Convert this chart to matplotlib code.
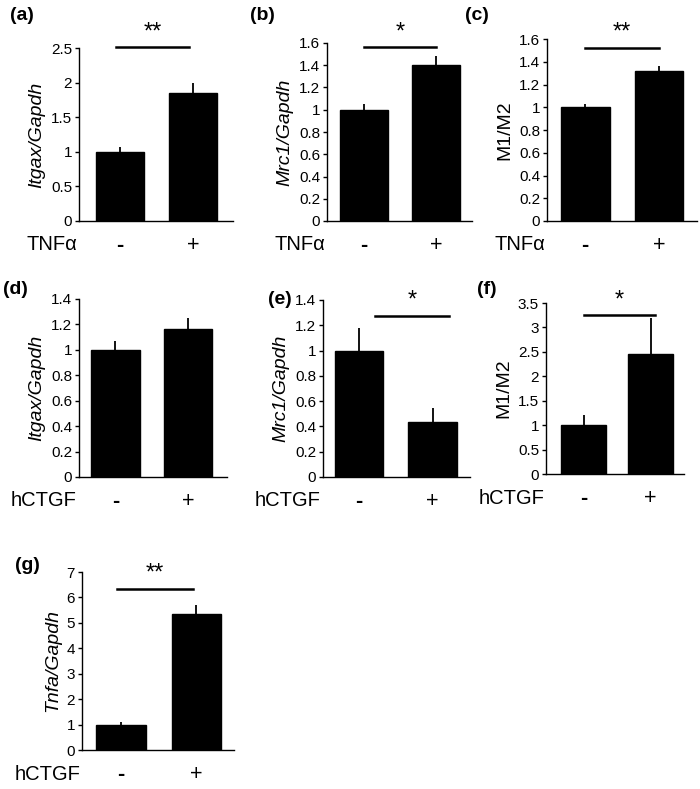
import matplotlib
matplotlib.use("Agg")
import matplotlib.pyplot as plt
from matplotlib.ticker import FuncFormatter, MultipleLocator

plt.rcParams['font.family'] = ['Liberation Sans', 'DejaVu Sans']

W, H = 700, 789

groups = ['-', '+']

# (a)-(c): TNFa stimulation
itgax_tnf = [1.0, 1.85]
itgax_tnf_err = [0.07, 0.14]
mrc1_tnf = [1.0, 1.40]
mrc1_tnf_err = [0.05, 0.085]
m1m2_tnf = [1.0, 1.32]
m1m2_tnf_err = [0.03, 0.045]

# (d)-(g): hCTGF stimulation
itgax_ctgf = [1.0, 1.165]
itgax_ctgf_err = [0.07, 0.085]
mrc1_ctgf = [1.0, 0.435]
mrc1_ctgf_err = [0.175, 0.11]
m1m2_ctgf = [1.0, 2.45]
m1m2_ctgf_err = [0.21, 0.74]
tnfa_ctgf = [1.0, 5.35]
tnfa_ctgf_err = [0.1, 0.37]

panels = [
    # letter, ylabel, italic, treatment, means, errs, ymax, step, sig
    ('(a)', 'Itgax/Gapdh', True, 'TNF\u03b1', itgax_tnf, itgax_tnf_err, 2.5, 0.5, ('**', -0.05, 0.95, 2.51)),
    ('(b)', 'Mrc1/Gapdh', True, 'TNF\u03b1', mrc1_tnf, mrc1_tnf_err, 1.6, 0.2, ('*', 0.0, 1.0, 1.56)),
    ('(c)', 'M1/M2', False, 'TNF\u03b1', m1m2_tnf, m1m2_tnf_err, 1.6, 0.2, ('**', 0.0, 1.0, 1.52)),
    ('(d)', 'Itgax/Gapdh', True, 'hCTGF', itgax_ctgf, itgax_ctgf_err, 1.4, 0.2, None),
    ('(e)', 'Mrc1/Gapdh', True, 'hCTGF', mrc1_ctgf, mrc1_ctgf_err, 1.4, 0.2, ('*', 0.22, 1.22, 1.276)),
    ('(f)', 'M1/M2', False, 'hCTGF', m1m2_ctgf, m1m2_ctgf_err, 3.5, 0.5, ('*', 0.0, 1.07, 3.25)),
    ('(g)', 'Tnfa/Gapdh', True, 'hCTGF', tnfa_ctgf, tnfa_ctgf_err, 7, 1, ('**', -0.05, 0.95, 6.33)),
]

# axes boxes in pixels: left, top, right, bottom
boxes = [
    (79, 48, 233, 221), (327, 43, 472, 221), (547, 39, 697, 221),
    (79, 299, 227, 477), (323, 300, 470, 477), (546, 303, 684, 474),
    (82, 572, 234, 750),
]
xlims = [(-0.56, 1.55), (-0.51, 1.5), (-0.52, 1.52), (-0.5, 1.53),
         (-0.49, 1.51), (-0.56, 1.5), (-0.52, 1.5)]
letter_pos = [(10, 15), (250, 15), (465, 15), (3, 290), (268, 300), (477, 290), (15, 565)]

fig = plt.figure(figsize=(W / 100, H / 100), dpi=100)

for (letter, ylab, ital, treat, means, errs, ymax, step, sig), box, xl, lp in zip(panels, boxes, xlims, letter_pos):
    l, t, r, b = box
    ax = fig.add_axes([l / W, 1 - b / H, (r - l) / W, (b - t) / H])
    x = range(len(groups))
    ax.bar(x, means, width=0.66, color='black', edgecolor='black')
    ax.errorbar(x, means, yerr=[[0] * len(errs), errs], fmt='none', ecolor='black',
                elinewidth=1.3, capsize=0)
    ax.set_xlim(*xl)
    ax.set_ylim(0, ymax)
    ax.yaxis.set_major_locator(MultipleLocator(step))
    ax.yaxis.set_major_formatter(FuncFormatter(lambda v, p: '%g' % round(v, 2)))
    ax.set_xticks(list(x))
    ax.set_xticklabels(groups, fontsize=15.5)
    ax.get_xticklabels()[0].set_fontweight('bold')
    ax.tick_params(axis='x', length=0, pad=10)
    ax.tick_params(axis='y', direction='out', length=3, width=1, labelsize=11, pad=2)
    for s in ['top', 'right']:
        ax.spines[s].set_visible(False)
    for s in ['left', 'bottom']:
        ax.spines[s].set_linewidth(1.0)
    ax.set_ylabel(ylab, fontsize=14, style='italic' if ital else 'normal', labelpad=4)
    ax.annotate(treat, xy=(0, 0), xycoords='axes fraction', xytext=(-2, -24),
                textcoords='offset pixels', ha='right', va='center', fontsize=14.5)
    if sig is not None:
        stars, x0, x1, yl = sig
        ax.plot([x0, x1], [yl, yl], color='black', lw=1.8, clip_on=False)
        ax.annotate(stars, xy=((x0 + x1) / 2, yl), xycoords='data', xytext=(0, 3),
                    textcoords='offset points', ha='center', va='bottom', fontsize=17,
                    annotation_clip=False)
    fig.text(lp[0] / W, 1 - lp[1] / H, letter, ha='left', va='center',
             fontsize=14, fontweight='bold')

fig.savefig('out.png', dpi=100)
